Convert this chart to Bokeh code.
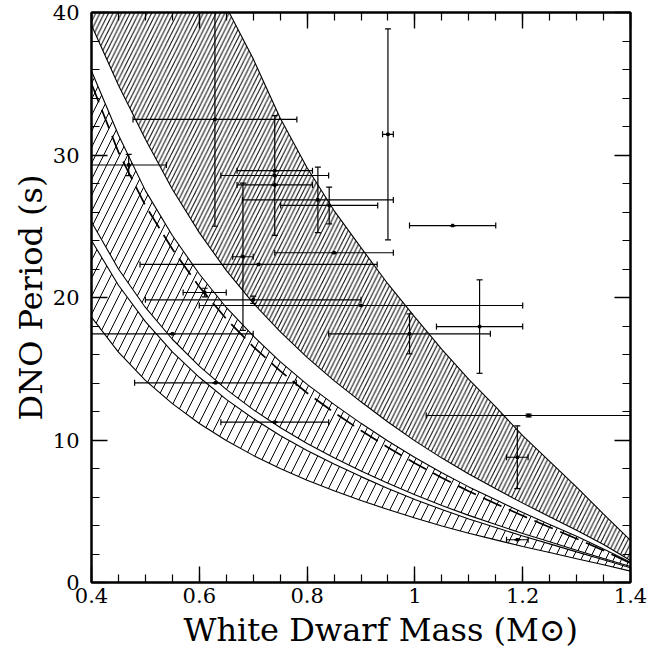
from bokeh.plotting import figure
from bokeh.models import (Range1d, FixedTicker, LinearAxis, Whisker, TeeHead,
                          ColumnDataSource, Title, CustomJSTickFormatter)
from bokeh.embed import file_html
from bokeh.resources import INLINE

# ---- model curves (period vs white dwarf mass) ----
mass = [0.40, 0.45, 0.50, 0.55, 0.60, 0.65, 0.70, 0.75, 0.80, 0.85, 0.90,
        0.95, 1.00, 1.05, 1.10, 1.15, 1.20, 1.25, 1.30, 1.35, 1.40]
band_hi_top = [76.7, 66.6, 58.5, 51.7, 45.0, 40.4, 36.75, 32.6, 29.1, 26.1, 23.5,
               20.95, 18.62, 16.36, 14.26, 12.32, 10.3, 8.5, 6.7, 4.8, 2.95]
band_hi_bot = [39.1, 34.9, 31.1, 27.6, 24.55, 21.9, 19.6, 17.6, 15.8, 14.17, 12.68,
               11.26, 9.94, 8.73, 7.61, 6.58, 5.57, 4.62, 3.67, 2.66, 1.55]
band_mid_top = [35.9, 31.4, 27.5, 24.35, 21.65, 19.3, 17.3, 15.5, 13.9, 12.5, 11.17,
                9.93, 8.77, 7.7, 6.71, 5.8, 4.91, 4.07, 3.24, 2.35, 1.43]
dashed_curve = [35.0, 30.2, 26.45, 23.4, 20.75, 18.5, 16.55, 14.85, 13.3, 11.93, 10.67,
                9.48, 8.37, 7.35, 6.4, 5.53, 4.68, 3.88, 3.07, 2.25, 1.36]
band_mid_bot = [25.3, 22.0, 19.3, 17.07, 15.18, 13.55, 12.13, 10.88, 9.76, 8.76, 7.83,
                6.96, 6.15, 5.4, 4.71, 4.07, 3.44, 2.86, 2.27, 1.69, 1.12]
band_lo_top = [24.0, 20.86, 18.31, 16.19, 14.4, 12.85, 11.51, 10.32, 9.26, 8.31, 7.43,
               6.6, 5.83, 5.12, 4.46, 3.86, 3.26, 2.71, 2.15, 1.6, 1.03]
band_lo_bot = [18.62, 16.17, 14.19, 12.55, 11.16, 9.96, 8.92, 8.0, 7.18, 6.44, 5.76,
               5.12, 4.52, 3.97, 3.46, 2.99, 2.53, 2.1, 1.67, 1.24, 0.8]

# ---- observed systems ----
obs_mass = [0.469, 0.629, 0.740, 0.740, 0.740, 0.820, 0.841, 0.950, 1.070, 0.681,
            0.710, 0.850, 0.610, 0.700, 0.900, 0.550, 0.990, 1.120, 0.630, 0.740,
            1.211, 1.190, 1.190]
obs_period = [29.30, 32.50, 28.90, 28.56, 27.90, 26.85, 26.46, 31.45, 25.05, 22.86,
              22.32, 23.14, 20.35, 19.84, 19.44, 17.45, 17.45, 17.96, 14.01, 11.25,
              11.72, 8.79, 3.00]
obs_mass_err = [0.070, 0.152, 0.070, 0.100, 0.070, 0.140, 0.090, 0.010, 0.080, 0.019,
                0.220, 0.110, 0.040, 0.200, 0.300, 0.150, 0.150, 0.080, 0.150, 0.100,
                0.190, 0.020, 0.020]
obs_period_err = [0.75, 7.50, 0.0, 4.20, 0.0, 2.30, 1.29, 7.40, 0.0, 5.17,
                  0.0, 0.0, 0.30, 0.25, 0.0, 0.0, 1.40, 3.28, 0.0, 0.0,
                  0.10, 2.20, 0.0]

x_ticks = [0.4, 0.6, 0.8, 1.0, 1.2, 1.4]
x_tick_labels = ["0.4", "0.6", "0.8", "1", "1.2", "1.4"]
y_ticks = [0, 10, 20, 30, 40]
x_title = "White Dwarf Mass (M\u2299)"
y_title = "DNO Period (s)"

FONT = "DejaVu Serif"

p = figure(width=651, height=651, x_range=Range1d(0.4, 1.4), y_range=Range1d(0, 40),
           output_backend="svg", toolbar_location=None,
           min_border_left=91, min_border_right=21, min_border_top=12, min_border_bottom=69)
p.grid.visible = False
p.background_fill_color = "white"
p.border_fill_color = "white"
p.outline_line_color = "black"
p.outline_line_width = 2

# bands
p.varea(x=mass, y1=band_hi_bot, y2=band_hi_top, fill_color=None,
        hatch_pattern="/", hatch_scale=8.6, hatch_weight=1, hatch_color="black")
p.varea(x=mass, y1=band_mid_bot, y2=band_mid_top, fill_color=None,
        hatch_pattern="/", hatch_scale=16, hatch_weight=1, hatch_color="black")
p.varea(x=mass, y1=band_lo_bot, y2=band_lo_top, fill_color=None,
        hatch_pattern="/", hatch_scale=18, hatch_weight=1, hatch_color="black")
for curve in (band_hi_top, band_hi_bot, band_mid_top, band_mid_bot, band_lo_top, band_lo_bot):
    p.line(mass, curve, line_color="black", line_width=1.1)
p.line(mass, dashed_curve, line_color="black", line_width=1.7, line_dash="20 8")

# error bars
lo_x = [m - e for m, e in zip(obs_mass, obs_mass_err)]
hi_x = [m + e for m, e in zip(obs_mass, obs_mass_err)]
lo_y = [v - e for v, e in zip(obs_period, obs_period_err)]
hi_y = [v + e for v, e in zip(obs_period, obs_period_err)]
src = ColumnDataSource(dict(x=obs_mass, y=obs_period, xlo=lo_x, xhi=hi_x, ylo=lo_y, yhi=hi_y))
p.add_layout(Whisker(source=src, base="y", lower="xlo", upper="xhi", dimension="width",
                     line_color="black", line_width=1.2,
                     lower_head=TeeHead(size=6, line_width=1.2, line_color="black"),
                     upper_head=TeeHead(size=6, line_width=1.2, line_color="black")))
p.add_layout(Whisker(source=src, base="x", lower="ylo", upper="yhi", dimension="height",
                     line_color="black", line_width=1.2,
                     lower_head=TeeHead(size=6, line_width=1.2, line_color="black"),
                     upper_head=TeeHead(size=6, line_width=1.2, line_color="black")))
p.scatter("x", "y", source=src, marker="square", size=2.5, color="black")

x_minor = [round(0.4 + 0.05 * i, 2) for i in range(21)]
y_minor = list(range(0, 41, 2))


def style_axis(ax, ticks, minor, show_labels, overrides=None):
    ax.ticker = FixedTicker(ticks=ticks, minor_ticks=minor)
    ax.axis_line_color = "black"
    ax.axis_line_width = 2
    ax.major_tick_in = 16
    ax.major_tick_out = 0
    ax.minor_tick_in = 8
    ax.minor_tick_out = 0
    ax.major_tick_line_width = 1.4
    ax.minor_tick_line_width = 1.2
    ax.major_tick_line_color = "black"
    ax.minor_tick_line_color = "black"
    if show_labels:
        ax.major_label_text_font = FONT
        ax.major_label_text_font_size = "21px"
        ax.major_label_text_color = "black"
        if overrides:
            ax.major_label_overrides = overrides
    else:
        ax.formatter = CustomJSTickFormatter(code="return ''")
        ax.major_label_standoff = 0


style_axis(p.xaxis[0], x_ticks, x_minor, True,
           {t: s for t, s in zip(x_ticks, x_tick_labels)})
p.xaxis[0].major_label_standoff = 5
style_axis(p.yaxis[0], y_ticks, y_minor, True)
p.yaxis[0].major_label_standoff = 12

top = LinearAxis()
style_axis(top, x_ticks, x_minor, False)
p.add_layout(top, "above")
right = LinearAxis()
style_axis(right, y_ticks, y_minor, False)
p.add_layout(right, "right")

# axis titles
p.add_layout(Title(text=x_title, align="left", offset=92, standoff=6,
                   text_font=FONT, text_font_size="32px", text_font_style="normal",
                   text_color="black"), "below")
p.add_layout(Title(text=y_title, align="center", offset=0, standoff=0,
                   text_font=FONT, text_font_size="32px", text_font_style="normal",
                   text_color="black"), "left")

open("out.html", "w").write(file_html(p, INLINE))
